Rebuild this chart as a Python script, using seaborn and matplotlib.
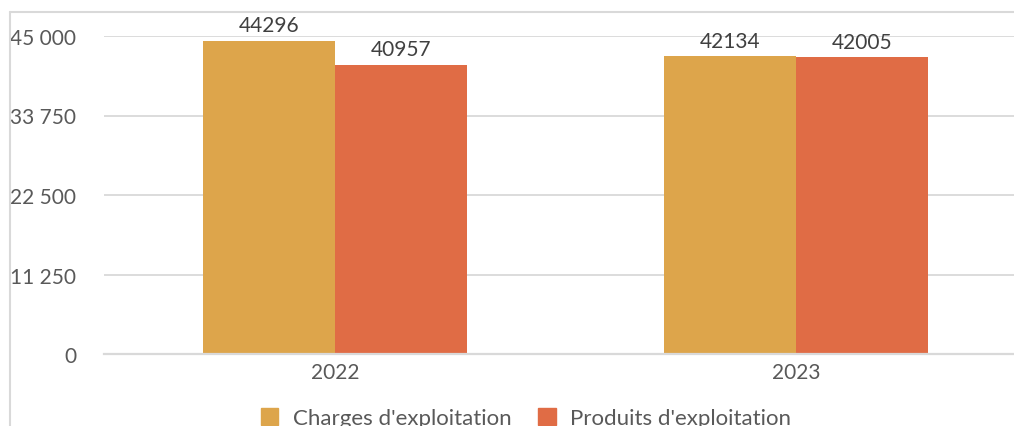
import matplotlib
matplotlib.use("Agg")
import matplotlib.pyplot as plt
from matplotlib.lines import Line2D
from matplotlib.ticker import FuncFormatter, FixedLocator
import seaborn as sns
import pandas as pd

# ---- data ----
years = ["2022", "2023"]
series_names = ["Charges d'exploitation", "Produits d'exploitation"]
charges = [44296, 42134]
produits = [40957, 42005]
y_ticks = [0, 11250, 22500, 33750, 45000]
colors = ["#DDA54B", "#E06C45"]

df = pd.DataFrame({
    "year": years * 2,
    "series": [series_names[0]] * len(years) + [series_names[1]] * len(years),
    "value": charges + produits,
})

sns.set_theme(style="white")
plt.rcParams["font.family"] = ["Lato", "DejaVu Sans"]

W, H = 1014, 427
fig = plt.figure(figsize=(W / 100, H / 100), dpi=100)
ax = fig.add_axes([104 / W, (H - 355) / H, (1027 - 104) / W, (355 - 37) / H])

sns.barplot(data=df, x="year", y="value", hue="series", order=years,
            hue_order=series_names, palette=colors, width=0.573, gap=0,
            saturation=1, ax=ax, legend=False, zorder=2)

for cont in ax.containers:
    for b in cont:
        b.set_edgecolor("none")
    ax.bar_label(cont, labels=[f"{int(round(b.get_height()))}" for b in cont],
                 padding=4, fontsize=15, color="#404040")

ax.set_xlim(-0.5, 1.5)
ax.set_ylim(0, 45000)
ax.yaxis.set_major_locator(FixedLocator(y_ticks))
ax.yaxis.set_major_formatter(FuncFormatter(lambda v, p: f"{int(v):,}".replace(",", " ")))
ax.grid(axis="y", color="#D9D9D9", linewidth=1.3, zorder=0)
ax.set_axisbelow(True)
for s in ["top", "right", "left"]:
    ax.spines[s].set_visible(False)
ax.spines["bottom"].set_color("#D9D9D9")
ax.spines["bottom"].set_linewidth(1.6)
ax.tick_params(axis="y", length=0, pad=20, labelsize=15, labelcolor="#595959")
ax.tick_params(axis="x", length=0, pad=6, labelsize=15, labelcolor="#595959")
ax.set_xlabel("")
ax.set_ylabel("")

# chart frame (decoration)
fig.add_artist(Line2D([9.5 / W, 1.0], [1 - 13 / H, 1 - 13 / H], color="#D9D9D9", lw=1.5))
fig.add_artist(Line2D([9.5 / W, 9.5 / W], [0, 1 - 13 / H], color="#D9D9D9", lw=1.5))

handles = [plt.Rectangle((0, 0), 1, 1, color=c) for c in colors]
fig.legend(handles, series_names, loc="upper center", bbox_to_anchor=(526 / W, 1 - 409 / H),
           ncol=2, frameon=False, fontsize=16, labelcolor="#595959",
           handlelength=0.8, handleheight=0.8, handletextpad=0.65, columnspacing=1.2,
           borderaxespad=0, borderpad=0)

fig.savefig("out.png", dpi=100)
